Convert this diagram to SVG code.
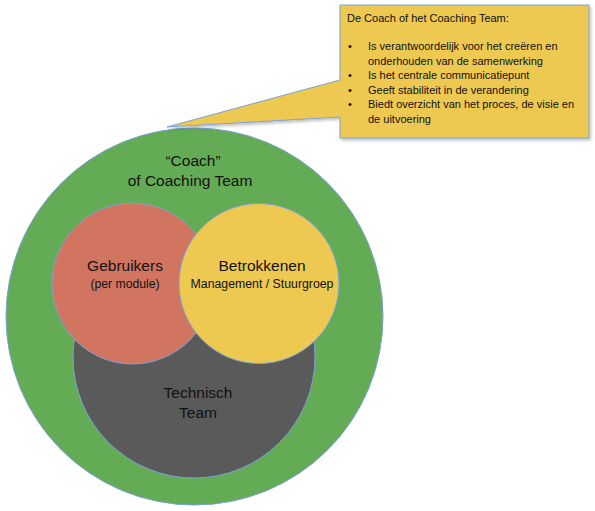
<svg xmlns="http://www.w3.org/2000/svg" width="595" height="511" viewBox="0 0 595 511">
<defs>
<filter id="sh" x="-5%" y="-5%" width="115%" height="115%">
<feDropShadow dx="1.5" dy="2" stdDeviation="1.5" flood-color="#000" flood-opacity="0.25"/>
</filter>
</defs>
<style>
.c{stroke:#7BA3D4;stroke-width:1}
.t{font-family:"Liberation Sans",Arial,sans-serif;fill:#111;text-anchor:middle}
.s{font-family:"Liberation Sans",Arial,sans-serif;fill:#111;font-size:11px}
</style>
<rect width="595" height="511" fill="#fff"/>
<g id="coach">
<circle class="c" cx="194.5" cy="316.5" r="188.5" fill="#64AB55"/>
<text class="t" x="193" y="166" font-size="15.5">“Coach”</text>
<text class="t" x="190" y="186" font-size="15.5">of Coaching Team</text>
</g>
<g id="technisch">
<circle class="c" cx="194" cy="357" r="121" fill="#5A5A5A"/>
<text class="t" x="198" y="398" font-size="15.5">Technisch</text>
<text class="t" x="198" y="418" font-size="15.5">Team</text>
</g>
<g id="gebruikers">
<circle class="c" cx="132.5" cy="283.5" r="80.5" fill="#D17561"/>
<text class="t" x="125" y="271" font-size="15.5">Gebruikers</text>
<text class="t" x="125" y="288" font-size="12.2">(per module)</text>
</g>
<g id="betrokkenen">
<circle class="c" cx="259" cy="283.5" r="80" fill="#EDC951"/>
<text class="t" x="262" y="271" font-size="15.5">Betrokkenen</text>
<text class="t" x="262" y="288" font-size="12.3">Management / Stuurgroep</text>
</g>
<g id="callout">
<path d="M340,5 H589 V138 H340 V117 L167,127 L340,80 Z" fill="#EDC951" stroke="#7BA3D4" stroke-width="1" filter="url(#sh)"/>
<text class="s" x="347" y="22">De Coach of het Coaching Team:</text>
<g>
<text class="s" x="348" y="50">•</text>
<text class="s" x="368" y="50">Is verantwoordelijk voor het creëren en</text>
<text class="s" x="368" y="64.5">onderhouden van de samenwerking</text>
<text class="s" x="348" y="79">•</text>
<text class="s" x="368" y="79">Is het centrale communicatiepunt</text>
<text class="s" x="348" y="93.5">•</text>
<text class="s" x="368" y="93.5">Geeft stabiliteit in de verandering</text>
<text class="s" x="348" y="108">•</text>
<text class="s" x="368" y="108">Biedt overzicht van het proces, de visie en</text>
<text class="s" x="368" y="122.5">de uitvoering</text>
</g>
</g>
<g id="connectors"/>
</svg>
